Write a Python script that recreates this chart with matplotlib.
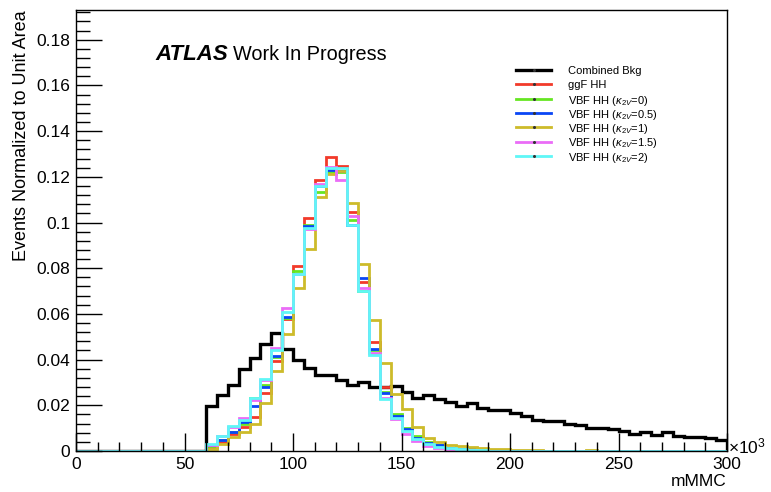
import numpy as np
import matplotlib
matplotlib.use("Agg")
from matplotlib import pyplot as plt
from matplotlib.lines import Line2D
from matplotlib.ticker import MultipleLocator, FuncFormatter

plt.rcParams['font.family'] = ['Liberation Sans', 'DejaVu Sans']
plt.rcParams['mathtext.fontset'] = 'custom'
plt.rcParams['mathtext.rm'] = 'Liberation Sans'
plt.rcParams['mathtext.it'] = 'Liberation Sans:italic'

# mMMC binning (x10^3), 5 per bin, 0..300 ; filled bins start at 60
edges = np.arange(0, 305, 5)
n_empty = 12

bkg = [0.0198, 0.0243, 0.0290, 0.0358, 0.0406, 0.0468, 0.0515, 0.0448, 0.0397, 0.0362,
       0.0332, 0.0332, 0.0310, 0.0288, 0.0303, 0.0282, 0.0282, 0.0285, 0.0259, 0.0234,
       0.0245, 0.0227, 0.0213, 0.0195, 0.0210, 0.0186, 0.0180, 0.0180, 0.0166, 0.0151,
       0.0137, 0.0132, 0.0132, 0.0118, 0.0114, 0.0102, 0.0099, 0.0096, 0.0089, 0.0073,
       0.0082, 0.0070, 0.0082, 0.0064, 0.0061, 0.0061, 0.0055, 0.0049]
ggf = [0.0015, 0.0041, 0.0074, 0.0106, 0.0147, 0.0256, 0.0394, 0.0576, 0.0809, 0.1020,
       0.1185, 0.1287, 0.1249, 0.1045, 0.0740, 0.0479, 0.0282, 0.0150, 0.0095, 0.0060,
       0.0035, 0.0020, 0.0012, 0.0008, 0.0005, 0.0004, 0.0003, 0.0002, 0.0002, 0.0001]
vbf_k0 = [0.0020, 0.0050, 0.0085, 0.0120, 0.0234, 0.0290, 0.0410, 0.0580, 0.0787, 0.0990,
          0.1133, 0.1220, 0.1220, 0.1010, 0.0700, 0.0440, 0.0260, 0.0160, 0.0100, 0.0064,
          0.0040, 0.0025, 0.0015, 0.0010, 0.0007, 0.0005, 0.0003, 0.0002]
vbf_k05 = [0.0025, 0.0049, 0.0084, 0.0125, 0.0195, 0.0280, 0.0416, 0.0588, 0.0773, 0.0984,
           0.1160, 0.1229, 0.1225, 0.0991, 0.0758, 0.0445, 0.0256, 0.0151, 0.0096, 0.0058,
           0.0035, 0.0026, 0.0015, 0.0010, 0.0008, 0.0005, 0.0003, 0.0002]
vbf_k1 = [0.0010, 0.0030, 0.0062, 0.0085, 0.0118, 0.0210, 0.0348, 0.0510, 0.0715, 0.0886,
          0.1112, 0.1214, 0.1225, 0.1086, 0.0817, 0.0573, 0.0386, 0.0249, 0.0183, 0.0103,
          0.0055, 0.0038, 0.0026, 0.0020, 0.0016, 0.0012, 0.0010, 0.0007, 0.0005, 0.0004,
          0.0003, 0.0002, 0.0002, 0.0001, 0.0001, 0.0003, 0.0001, 0.0001]
vbf_k15 = [0.0028, 0.0065, 0.0105, 0.0143, 0.0225, 0.0310, 0.0450, 0.0627, 0.0775, 0.0970,
           0.1169, 0.1245, 0.1188, 0.1028, 0.0715, 0.0428, 0.0232, 0.0140, 0.0075, 0.0045,
           0.0020, 0.0012, 0.0008, 0.0005, 0.0003, 0.0002]
vbf_k2 = [0.0030, 0.0067, 0.0108, 0.0137, 0.0234, 0.0314, 0.0440, 0.0610, 0.0773, 0.0977,
          0.1159, 0.1239, 0.1239, 0.0991, 0.0700, 0.0419, 0.0227, 0.0143, 0.0089, 0.0052,
          0.0030, 0.0016, 0.0012, 0.0009, 0.0005, 0.0003, 0.0002, 0.0001]

labels = ['Combined Bkg', 'ggF HH',
          r'VBF HH ($\kappa_{2V}$=0)', r'VBF HH ($\kappa_{2V}$=0.5)', r'VBF HH ($\kappa_{2V}$=1)',
          r'VBF HH ($\kappa_{2V}$=1.5)', r'VBF HH ($\kappa_{2V}$=2)']
colors = ['black', '#f23a2a', '#66e622', '#0a46f5', '#cdbb2a', '#ea6cf7', '#5ff7f7']
series = [bkg, ggf, vbf_k0, vbf_k05, vbf_k1, vbf_k15, vbf_k2]


def full(v):
    nbins = len(edges) - 1
    return np.r_[np.zeros(n_empty), v, np.zeros(nbins - n_empty - len(v))]


fig = plt.figure(figsize=(7.71, 4.92), dpi=100)
W, H = 771, 492
ax = fig.add_axes([76 / W, 1 - 451 / H, 651 / W, 441 / H])

for vals, c in zip(series, colors):
    lw = 2.4 if c == 'black' else 2.0
    ax.stairs(full(vals), edges, color=c, lw=lw)

ax.set_xlim(0, 300)
ax.set_ylim(0, 0.193)
ax.xaxis.set_major_locator(MultipleLocator(50))
ax.xaxis.set_minor_locator(MultipleLocator(10))
ax.yaxis.set_major_locator(MultipleLocator(0.02))
ax.yaxis.set_minor_locator(MultipleLocator(0.004))
ax.yaxis.set_major_formatter(FuncFormatter(lambda v, p: '%g' % round(v, 3)))
ax.tick_params(axis='both', which='both', direction='in', top=False, right=False,
               labelsize=12.5, width=1)
ax.tick_params(axis='y', which='major', length=19, pad=4)
ax.tick_params(axis='y', which='minor', length=10)
ax.tick_params(axis='x', which='major', length=13, pad=4)
ax.tick_params(axis='x', which='minor', length=6.5)
for s in ax.spines.values():
    s.set_linewidth(1)

ax.set_ylabel('Events Normalized to Unit Area', fontsize=13, loc='top', labelpad=5)
ax.set_xlabel('mMMC', fontsize=12.5, loc='right', labelpad=2)
ax.text(1.002, -0.012, r'$\times$10$^{3}$', transform=ax.transAxes, fontsize=12.5,
        ha='left', va='bottom')

ax.text(0.122, 0.887, 'ATLAS', transform=ax.transAxes, fontsize=16,
        fontweight='bold', fontstyle='italic', ha='left', va='baseline')
ax.text(0.2415, 0.887, 'Work In Progress', transform=ax.transAxes, fontsize=14.3,
        ha='left', va='baseline')

# legend drawn entry by entry so rows keep an even spacing
for i, (lab, c) in enumerate(zip(labels, colors)):
    yy = 1 - (70 + 14.3 * i) / H
    fig.add_artist(Line2D([516 / W, 551 / W], [yy, yy], color=c,
                          lw=2.4 if c == 'black' else 2.0, transform=fig.transFigure))
    fig.add_artist(Line2D([533.5 / W], [yy], marker='o', markersize=1.2, color='#333333',
                          transform=fig.transFigure))
    fig.text(568 / W, yy, lab, fontsize=8, ha='left', va='center_baseline')

fig.savefig('out.png', dpi=100)
